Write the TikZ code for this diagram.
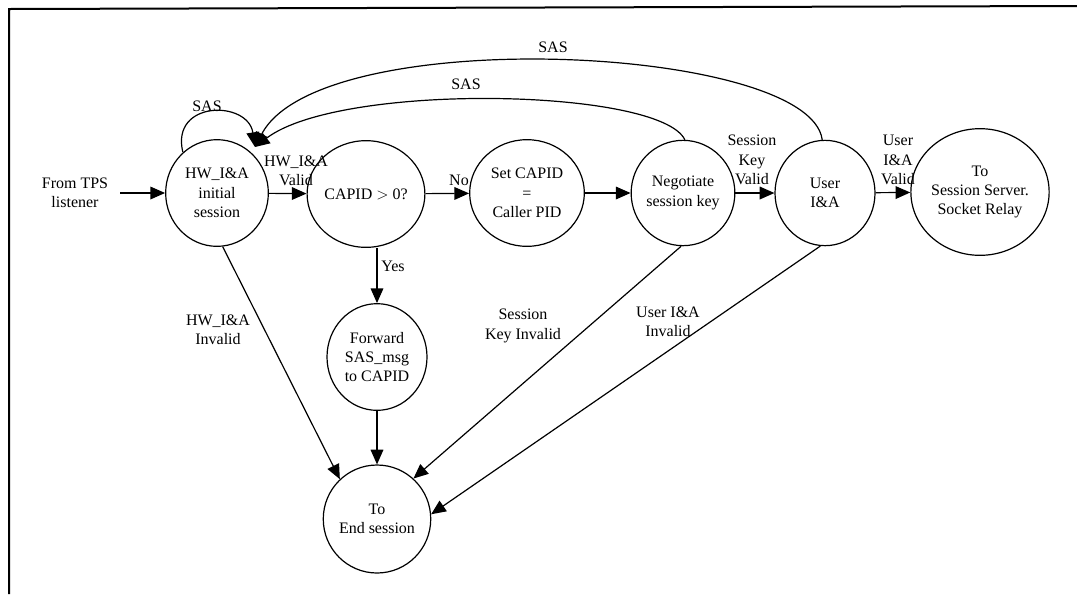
\documentclass[tikz,border=0pt]{standalone}
\usepackage{fontspec}
\setmainfont{Liberation Serif}
\usetikzlibrary{arrows.meta,shapes.geometric}
\begin{document}
\begin{tikzpicture}[x=0.75pt,y=-0.75pt,
  every node/.style={font=\fontsize{12}{14.5}\selectfont, align=center, inner sep=1pt},
  statebox/.style={draw, ellipse, line width=0.9pt, inner sep=0pt},
  lbl/.style={inner sep=0pt},
  arr/.style={line width=0.9pt, -{Triangle[length=11pt,width=9.5pt]}},
  ln/.style={line width=0.9pt}]
\useasboundingbox (0,0) rectangle (1077,594);
\draw[line width=1.5pt] (9,594) -- (9,9) -- (1077,6);

% states
\node[statebox, minimum width=77pt, minimum height=80pt] (hw) at (217,193) {HW\_I\&A\\initial\\session};
\node[statebox, minimum width=71pt, minimum height=80pt] (capid) at (366,194) {CAPID $>$ 0?};
\node[statebox, minimum width=86pt, minimum height=80pt] (set) at (527,193) {Set CAPID\\=\\Caller PID};
\node[statebox, minimum width=75pt, minimum height=79pt] (neg) at (683,193) {Negotiate\\session key};
\node[statebox, minimum width=75pt, minimum height=79pt] (user) at (825,193) {User\\I\&A};
\node[statebox, minimum width=93pt, minimum height=95pt] (srv) at (980,192) {To\\Session Server.\\Socket Relay};
\node[statebox, minimum width=75pt, minimum height=80pt] (fwd) at (377,357) {Forward\\SAS\_msg\\to CAPID};
\node[statebox, minimum width=76pt, minimum height=81pt] (end) at (377,519) {To\\End session};

% source
\node[lbl] (from) at (75,193) {From TPS\\listener};
\coordinate (fromend) at (120,193);

% labels
\node[lbl] (lloop) at (207,106) {SAS};
\node[lbl] (lsas1) at (466,84) {SAS};
\node[lbl] (lsas2) at (553,47) {SAS};
\node[lbl] (lhwv) at (296,171) {HW\_I\&A\\Valid};
\node[lbl] (lno) at (459,180) {No};
\node[lbl] (lyes) at (393,266) {Yes};
\node[lbl] (lskv) at (752,160) {Session\\Key\\Valid};
\node[lbl] (luv) at (898,160) {User\\I\&A\\Valid};
\node[lbl] (lhwi) at (218,330) {HW\_I\&A\\Invalid};
\node[lbl] (lski) at (523,326) {Session\\Key Invalid};
\node[lbl] (lui) at (668,322) {User I\&A\\Invalid};

% connectors
\draw[arr] (fromend) -- (hw.west);
\draw[arr] (hw) -- (capid);
\draw[arr] (capid) -- (set);
\draw[arr] (set) -- (neg);
\draw[arr] (neg) -- (user);
\draw[arr] (user) -- (srv);
\draw[arr] (capid.south -| fwd.north) -- (fwd.north);
\draw[arr] (fwd) -- (end);
\draw[arr] (hw.-84) -- (end.133);
\draw[arr] (neg.-92) -- (end.48);
\draw[arr] (user.-95) -- (end.5);

\coordinate (sastip) at (255,147);
\draw[arr] (hw.130) .. controls (170,100) and (248,100) .. (sastip);
\draw[arr] (neg.88) .. controls (660,88) and (340,82) .. (sastip);
\draw[arr] (user.93) .. controls (810,45) and (320,22) .. (sastip);
\end{tikzpicture}
\end{document}
